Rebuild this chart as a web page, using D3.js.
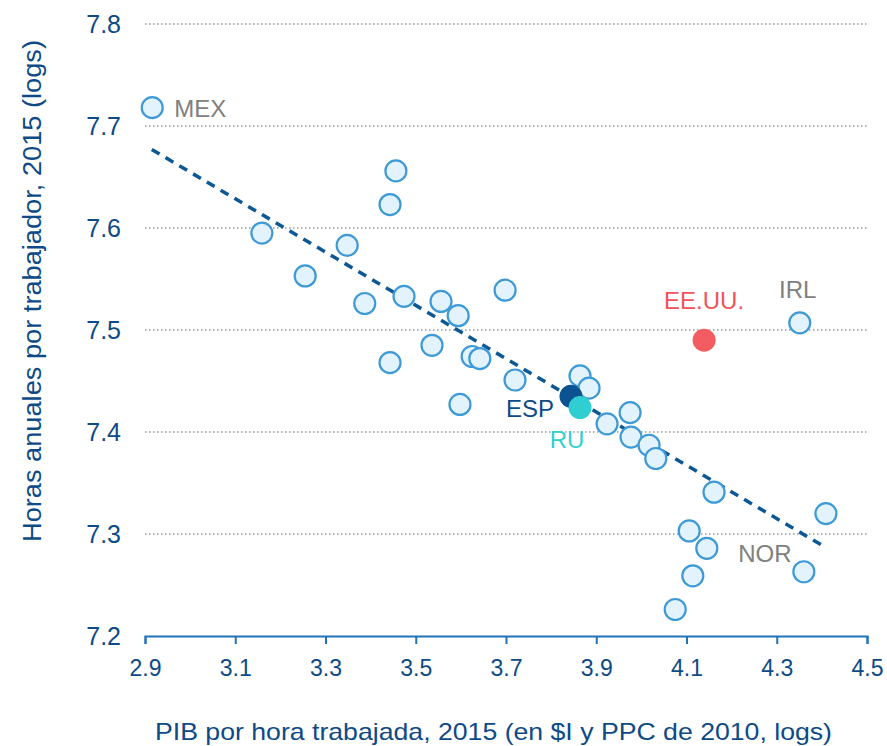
<!DOCTYPE html>
<html>
<head>
<meta charset="utf-8">
<script src="https://cdn.jsdelivr.net/npm/d3@7"></script>
<style>
  body { margin: 0; background: #fff; }
  svg { font-family: "Liberation Sans", Arial, sans-serif; }
</style>
</head>
<body>
<div id="chart"></div>
<script>
// countries (only labelled ones have names)
var names = ["MEX", "", "", "", "", "", "", "", "", "", "", "", "", "", "", "", "", "", "",
             "ESP", "RU", "", "", "", "", "", "", "", "", "", "", "EE.UU.", "IRL", "", "NOR"];
var xVals = [2.916, 3.159, 3.255, 3.348, 3.456, 3.443, 3.387, 3.474, 3.556, 3.594, 3.698, 3.536, 3.443, 3.598,
             3.625, 3.642, 3.720, 3.864, 3.884, 3.844, 3.864, 3.924, 3.975, 3.977, 4.017, 4.032, 4.161, 4.106,
             4.145, 4.114, 4.075, 4.139, 4.351, 4.409, 4.360];
var yVals = [7.718, 7.595, 7.553, 7.583, 7.656, 7.623, 7.526, 7.533, 7.528, 7.514, 7.539, 7.485, 7.468, 7.427,
             7.474, 7.472, 7.451, 7.455, 7.443, 7.435, 7.424, 7.408, 7.419, 7.395, 7.387, 7.374, 7.341, 7.303,
             7.286, 7.259, 7.226, 7.490, 7.507, 7.320, 7.263];
var xTicks = [2.9, 3.1, 3.3, 3.5, 3.7, 3.9, 4.1, 4.3, 4.5];
var yTicks = [7.2, 7.3, 7.4, 7.5, 7.6, 7.7, 7.8];
// fitted line end points
var trendX = [2.915, 4.40];
var trendY = [7.677, 7.289];

var margin = {top: 24, right: 20, bottom: 110, left: 145},
    width = 867 - margin.left,
    height = 636 - margin.top;

var x = d3.scaleLinear().domain([2.9, 4.5]).range([0, width]);
var y = d3.scaleLinear().domain([7.2, 7.8]).range([height, 0]);

var svg = d3.select("#chart").append("svg")
    .attr("width", 887).attr("height", 746)
    .append("g")
    .attr("transform", "translate(" + margin.left + "," + margin.top + ")");

// dotted grid lines
svg.selectAll(".grid")
    .data(yTicks.slice(1))
    .enter().append("line")
    .attr("x1", 0).attr("x2", width)
    .attr("y1", function(d) { return y(d); })
    .attr("y2", function(d) { return y(d); })
    .attr("stroke", "#9a9a9a")
    .attr("stroke-width", 1.5)
    .attr("stroke-dasharray", "1.5,2.5");

// y tick labels
svg.selectAll(".ylab")
    .data(yTicks)
    .enter().append("text")
    .attr("x", -24)
    .attr("y", function(d) { return y(d); })
    .attr("dy", "0.36em")
    .attr("text-anchor", "end")
    .attr("fill", "#0d4a86")
    .style("font-size", "25px")
    .text(function(d) { return d.toFixed(1); });

// x axis
var xAxis = svg.append("g")
    .attr("transform", "translate(0," + height + ")")
    .call(d3.axisBottom(x).tickValues(xTicks).tickFormat(d3.format(".1f")).tickSize(8).tickSizeOuter(8).tickPadding(16));
xAxis.select(".domain").attr("stroke", "#2173b8").attr("stroke-width", 2);
xAxis.selectAll(".tick line").attr("stroke", "#2173b8").attr("stroke-width", 2);
xAxis.selectAll(".tick text").attr("fill", "#0d4a86").style("font-size", "23px");

// trend line
svg.append("line")
    .attr("x1", x(trendX[0])).attr("y1", y(trendY[0]))
    .attr("x2", x(trendX[1])).attr("y2", y(trendY[1]))
    .attr("stroke", "#0b5894")
    .attr("stroke-width", 3.5)
    .attr("stroke-dasharray", "9,7");

var data = xVals.map(function(d, i) { return {x: d, y: yVals[i], name: names[i]}; });

var fills = {"ESP": "#0b5290", "RU": "#2fcfd1", "EE.UU.": "#f35d61"};

// points
svg.selectAll(".dot")
    .data(data)
    .enter().append("circle")
    .attr("r", 10.5)
    .attr("cx", function(d) { return x(d.x); })
    .attr("cy", function(d) { return y(d.y); })
    .attr("fill", function(d) { return fills[d.name] || "#e2f3fd"; })
    .attr("stroke", function(d) { return fills[d.name] ? "none" : "#3e9ad6"; })
    .attr("stroke-width", 2.2);

// redraw coloured points on top
svg.selectAll(".hl")
    .data(data.filter(function(d) { return fills[d.name]; }))
    .enter().append("circle")
    .attr("r", 11.5)
    .attr("cx", function(d) { return x(d.x); })
    .attr("cy", function(d) { return y(d.y); })
    .attr("fill", function(d) { return fills[d.name]; });

// labels
var labels = [
    {name: "MEX", dx: 22, dy: 9, anchor: "start", color: "#808080"},
    {name: "EE.UU.", dx: 0, dy: -31, anchor: "middle", color: "#f0545a"},
    {name: "IRL", dx: -2, dy: -25, anchor: "middle", color: "#808080"},
    {name: "ESP", dx: -41, dy: 21, anchor: "middle", color: "#0d4a86"},
    {name: "RU", dx: -13, dy: 40, anchor: "middle", color: "#33d0d2"},
    {name: "NOR", dx: -39, dy: -10, anchor: "middle", color: "#808080"}
];
labels.forEach(function(l) {
    var d = data.filter(function(p) { return p.name === l.name; })[0];
    svg.append("text")
        .attr("x", x(d.x) + l.dx)
        .attr("y", y(d.y) + l.dy)
        .attr("text-anchor", l.anchor)
        .attr("fill", l.color)
        .style("font-size", "24px")
        .text(l.name);
});

// axis titles
svg.append("text")
    .attr("x", 348.5)
    .attr("y", 716)
    .attr("text-anchor", "middle")
    .attr("fill", "#0d4a86")
    .style("font-size", "24px")
    .attr("textLength", 677)
    .attr("lengthAdjust", "spacingAndGlyphs")
    .text("PIB por hora trabajada, 2015 (en $I y PPC de 2010, logs)");

svg.append("text")
    .attr("transform", "translate(-104," + 267 + ") rotate(-90)")
    .attr("text-anchor", "middle")
    .attr("fill", "#0d4a86")
    .style("font-size", "25px")
    .attr("textLength", 502)
    .attr("lengthAdjust", "spacingAndGlyphs")
    .text("Horas anuales por trabajador, 2015 (logs)");
</script>
</body>
</html>
